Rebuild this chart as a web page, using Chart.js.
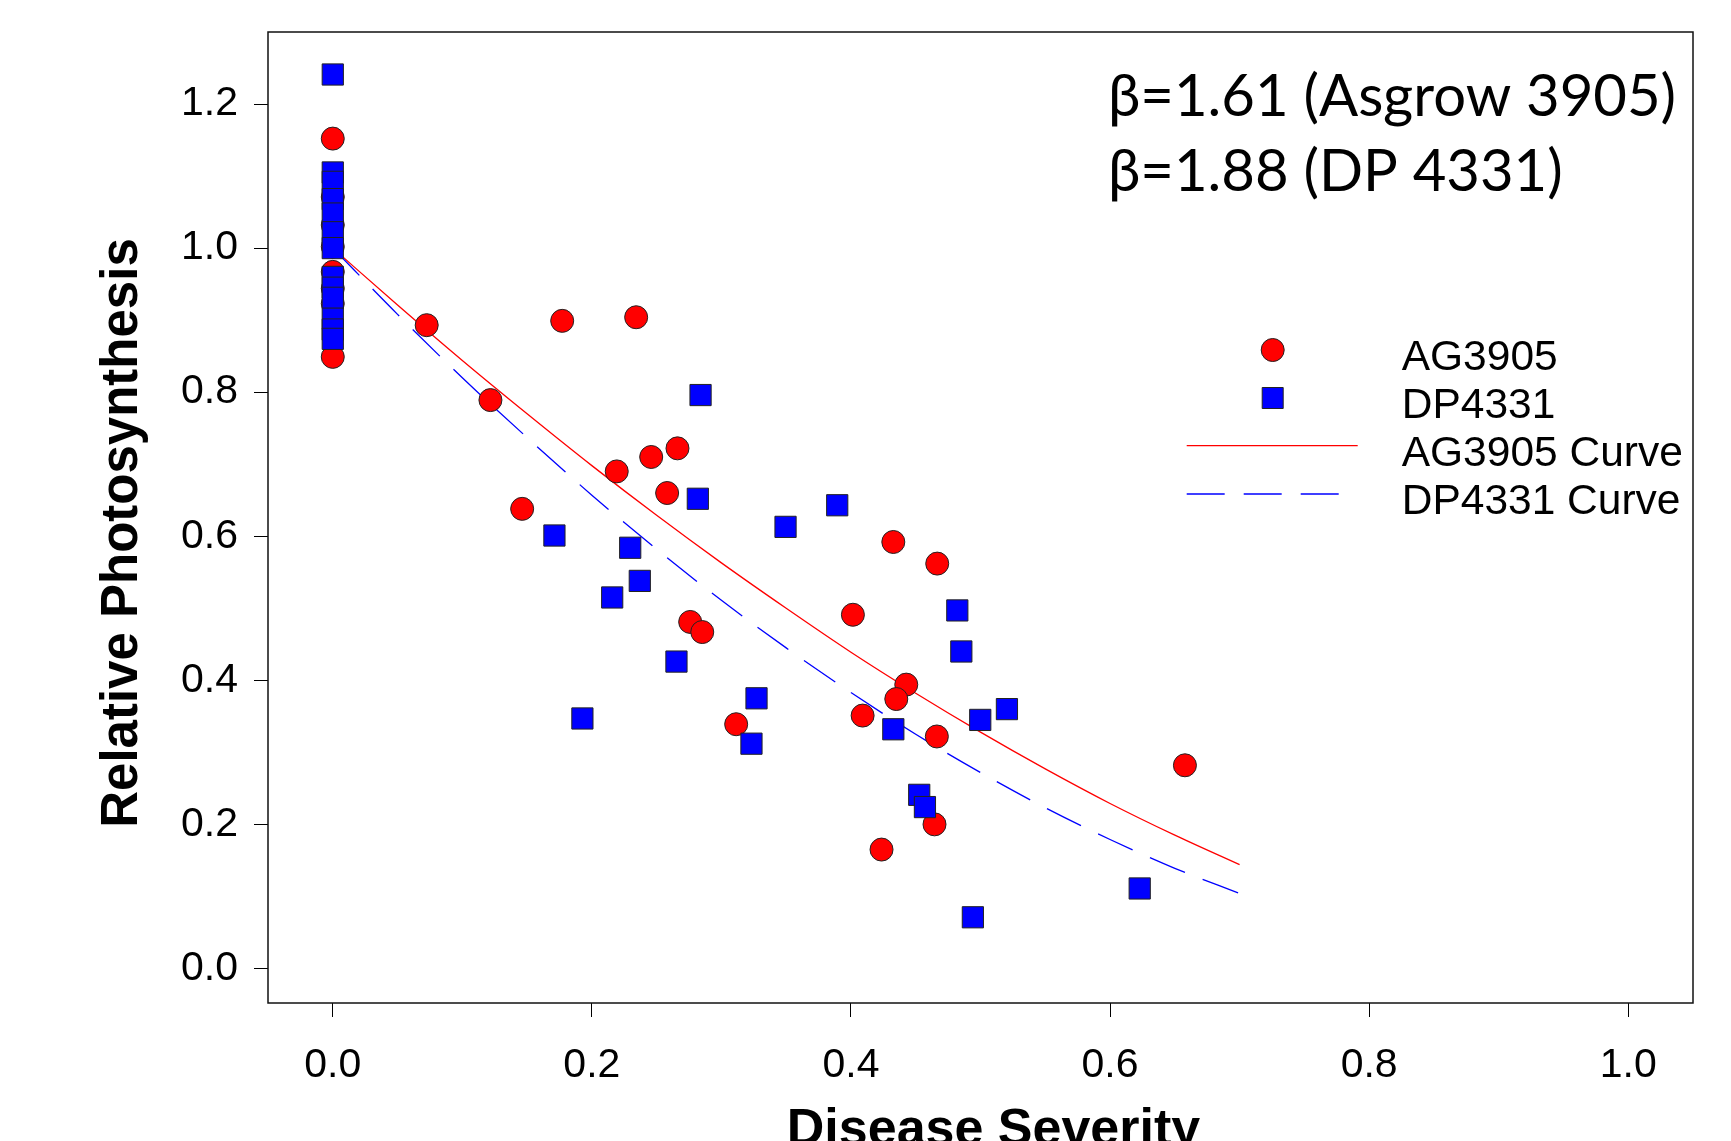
<!DOCTYPE html>
<html>
<head>
<meta charset="utf-8">
<script src="https://cdn.jsdelivr.net/npm/chart.js@4.4.1/dist/chart.umd.min.js"></script>
<style>
html,body{margin:0;padding:0;background:#fff;overflow:hidden}
canvas{display:block}
</style>
</head>
<body>
<canvas id="c" width="1731" height="1141"></canvas>
<script>
// ---- data ----
const agX = [0, 0, 0, 0, 0, 0, 0, 0,
  0.0725, 0.1771, 0.2342, 0.1217, 0.1462, 0.2192, 0.2458, 0.2661, 0.2581, 0.2759, 0.2852,
  0.3114, 0.4015, 0.4327, 0.4666, 0.4427, 0.4350, 0.4090, 0.4663, 0.4645, 0.4236, 0.6578];
const agY = [1.152, 1.071, 1.032, 1.002, 0.967, 0.944, 0.923, 0.849,
  0.893, 0.899, 0.904, 0.789, 0.638, 0.690, 0.710, 0.722, 0.660, 0.481, 0.467,
  0.339, 0.491, 0.592, 0.562, 0.394, 0.374, 0.351, 0.322, 0.200, 0.165, 0.282];

const dpX = [0, 0, 0, 0, 0, 0, 0, 0, 0, 0, 0, 0, 0,
  0.2839, 0.2818, 0.3495, 0.1711, 0.2296, 0.2370, 0.2157, 0.2653, 0.3271, 0.1927, 0.3232,
  0.3894, 0.4821, 0.4852, 0.5204, 0.4998, 0.4327, 0.4527, 0.4571, 0.6229, 0.4941];
const dpY = [1.241, 1.105, 1.092, 1.068, 1.048, 1.022, 1.000, 0.960, 0.945, 0.931, 0.902, 0.887, 0.874,
  0.796, 0.652, 0.613, 0.601, 0.584, 0.538, 0.515, 0.426, 0.375, 0.347, 0.312,
  0.643, 0.497, 0.440, 0.360, 0.345, 0.332, 0.241, 0.224, 0.111, 0.071];

const curveX   = [0, 0.05, 0.10, 0.15, 0.20, 0.25, 0.30, 0.35, 0.40, 0.45, 0.50, 0.55, 0.60, 0.65, 0.70];
const agCurveY = [1.000, 0.921, 0.844, 0.770, 0.698, 0.629, 0.563, 0.500, 0.439, 0.382, 0.328, 0.277, 0.229, 0.185, 0.144];
const dpCurveY = [1.000, 0.908, 0.820, 0.737, 0.657, 0.582, 0.511, 0.445, 0.383, 0.325, 0.272, 0.223, 0.179, 0.139, 0.104];

const xTicks = [0.0, 0.2, 0.4, 0.6, 0.8, 1.0];
const yTicks = [0.0, 0.2, 0.4, 0.6, 0.8, 1.0, 1.2];

const seriesNames = ['AG3905', 'DP4331', 'AG3905 Curve', 'DP4331 Curve'];
const xTitle = 'Disease Severity';
const yTitle = 'Relative Photosynthesis';
const noteLines = ['\u03B2=1.61 (Asgrow 3905)', '\u03B2=1.88 (DP 4331)'];

// ---- helpers ----
const pts = (xs, ys) => xs.map((x, i) => ({x: x, y: ys[i]}));
const SANS = "'Liberation Sans', Arial, sans-serif";
const RED = '#ff0000', BLUE = '#0000ff';

const boxPlugin = {
  id: 'box',
  beforeDatasetsDraw(chart) {
    const {ctx, chartArea: a} = chart;
    ctx.save();
    ctx.strokeStyle = '#111';
    ctx.lineWidth = 1.5;
    ctx.strokeRect(a.left, a.top, a.right - a.left, a.bottom - a.top);
    ctx.restore();
  }
};

const decorPlugin = {
  id: 'decor',
  afterDraw(chart) {
    const ctx = chart.ctx;
    ctx.save();
    ctx.fillStyle = '#000';
    // axis titles
    ctx.font = "bold 52px " + SANS;
    ctx.textAlign = 'center';
    ctx.textBaseline = 'alphabetic';
    ctx.fillText(xTitle, 993.5, 1145);
    ctx.save();
    ctx.translate(137, 533);
    ctx.rotate(-Math.PI / 2);
    ctx.font = "bold 51px " + SANS;
    ctx.fillText(yTitle, 0, 0);
    ctx.restore();

    // annotation
    ctx.textAlign = 'left';
    ctx.font = "58px Lato, 'Noto Sans', sans-serif";
    ctx.fillText(noteLines[0], 1108, 116);
    ctx.fillText(noteLines[1], 1108, 191);

    // legend
    const sx = 1272.7, textX = 1401.7;
    const base = [370, 418, 466, 514];
    ctx.font = "42.5px " + SANS;
    seriesNames.forEach((n, i) => ctx.fillText(n, textX, base[i]));
    // circle
    ctx.lineWidth = 1;
    ctx.strokeStyle = '#222';
    ctx.fillStyle = RED;
    ctx.beginPath(); ctx.arc(sx, 350, 11.5, 0, Math.PI * 2); ctx.fill(); ctx.stroke();
    // square
    ctx.fillStyle = BLUE;
    ctx.beginPath(); ctx.rect(sx - 10.5, 398 - 10.5, 21, 21); ctx.fill(); ctx.stroke();
    // red line
    ctx.strokeStyle = RED; ctx.lineWidth = 1.3;
    ctx.beginPath(); ctx.moveTo(1186.7, 445.7); ctx.lineTo(1357.7, 445.7); ctx.stroke();
    // blue dashed
    ctx.strokeStyle = BLUE;
    ctx.setLineDash([38, 19]);
    ctx.beginPath(); ctx.moveTo(1186.7, 494); ctx.lineTo(1339.3, 494); ctx.stroke();
    ctx.restore();
  }
};

const tickFont = {family: SANS, size: 41};

new Chart(document.getElementById('c'), {
  type: 'scatter',
  data: {
    datasets: [
      {
        label: seriesNames[0],
        data: pts(agX, agY),
        pointStyle: 'circle',
        pointRadius: 11.5,
        pointBackgroundColor: RED,
        pointBorderColor: '#222',
        pointBorderWidth: 1,
        order: 2
      },
      {
        label: seriesNames[1],
        data: pts(dpX, dpY),
        pointStyle: 'rect',
        pointRadius: 15,
        pointBackgroundColor: BLUE,
        pointBorderColor: '#222',
        pointBorderWidth: 1,
        order: 1
      },
      {
        label: seriesNames[2],
        data: pts(curveX, agCurveY),
        showLine: true,
        pointRadius: 0,
        borderColor: RED,
        borderWidth: 1.3,
        cubicInterpolationMode: 'monotone',
        order: 4
      },
      {
        label: seriesNames[3],
        data: pts(curveX, dpCurveY),
        showLine: true,
        pointRadius: 0,
        borderColor: BLUE,
        borderWidth: 1.3,
        borderDash: [38, 19],
        cubicInterpolationMode: 'monotone',
        order: 3
      }
    ]
  },
  options: {
    responsive: false,
    animation: false,
    events: [],
    layout: {padding: {top: 32, right: 38, left: 0, bottom: 0}},
    plugins: {legend: {display: false}, tooltip: {enabled: false}},
    scales: {
      x: {
        type: 'linear',
        min: -0.05, max: 1.05,
        afterBuildTicks: s => { s.ticks = xTicks.map(v => ({value: v})); },
        afterFit: s => { s.height = 138; s.paddingLeft = 0; s.paddingRight = 0; },
        ticks: {font: tickFont, color: '#000', padding: 24, maxRotation: 0, autoSkip: false,
                callback: v => Number(v).toFixed(1)},
        grid: {drawOnChartArea: false, drawTicks: true, tickLength: 14, color: '#000', tickColor: '#000', lineWidth: 1},
        border: {display: false},
        title: {display: false}
      },
      y: {
        type: 'linear',
        min: -0.048, max: 1.30,
        afterBuildTicks: s => { s.ticks = yTicks.map(v => ({value: v})); },
        afterFit: s => { s.width = 268; s.paddingTop = 0; s.paddingBottom = 0; },
        ticks: {font: tickFont, color: '#000', padding: 16, autoSkip: false,
                callback: v => Number(v).toFixed(1)},
        grid: {drawOnChartArea: false, drawTicks: true, tickLength: 14, color: '#000', tickColor: '#000', lineWidth: 1},
        border: {display: false},
        title: {display: false}
      }
    }
  },
  plugins: [boxPlugin, decorPlugin]
});
</script>
</body>
</html>
